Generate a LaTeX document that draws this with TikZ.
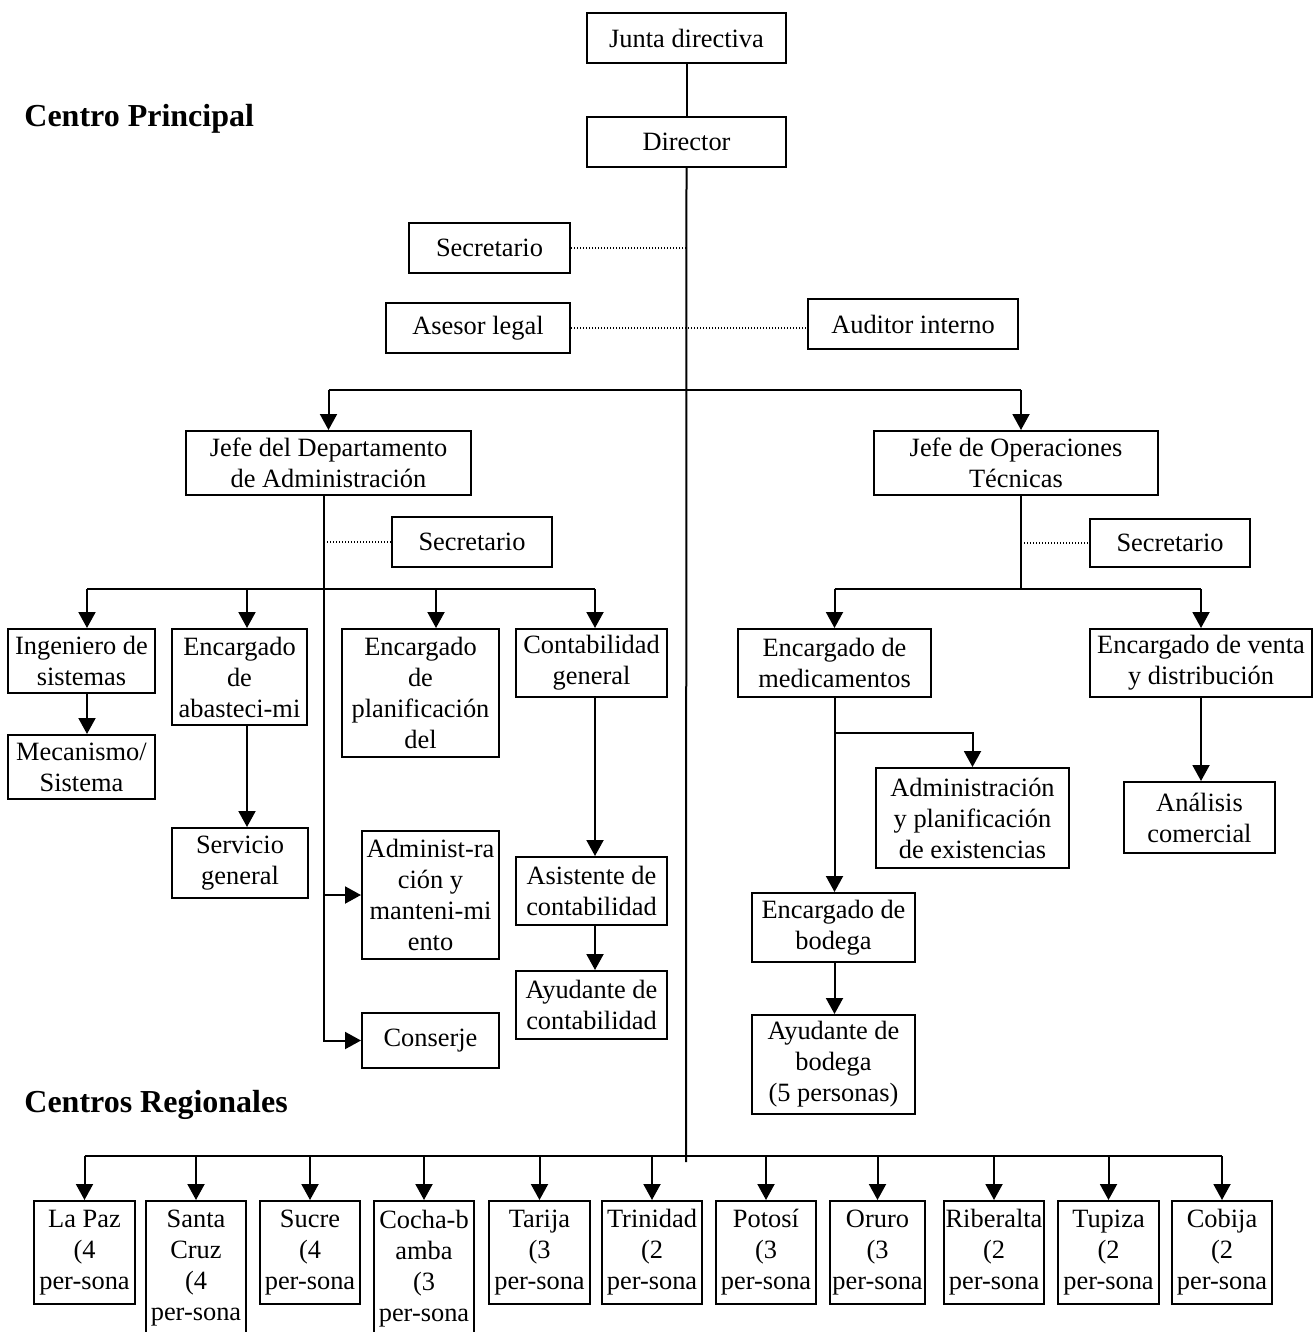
\documentclass[tikz,border=0pt]{standalone}
\usepackage{fontspec}
\setmainfont{Liberation Serif}
\usetikzlibrary{arrows.meta}
\newcommand\orgbox[6]{%
  \pgfmathsetmacro\obw{(#4-#2)*0.5}%
  \pgfmathsetmacro\obh{(#5-#3)*0.5}%
  \node[box, minimum width=\obw pt, minimum height=\obh pt] (#1) at ({(#2+#4)/2},{(#3+#5)/2}) {#6};}
\begin{document}
\begin{tikzpicture}[x=0.5pt,y=-0.5pt,
  box/.style={draw, line width=1pt, inner sep=0pt, align=center,
    font=\fontsize{13.2}{15.5}\selectfont},
  conn/.style={line width=1pt},
  arr/.style={conn, -{Triangle[length=8pt,width=8.5pt]}},
  dots/.style={line width=0.6pt, dash pattern=on 0.6pt off 0.9pt},
  head/.style={anchor=base west, inner sep=0pt, font=\bfseries\fontsize{16}{19}\selectfont}]
\useasboundingbox (0,0) rectangle (1313,1332);

% headings
\node[head] (hcp) at (24,127) {Centro Principal};
\node[head] (hcr) at (24,1112) {Centros Regionales};

% top
\orgbox{junta}{587}{13}{786}{63}{Junta directiva}
\orgbox{director}{587}{117}{786}{167}{Director}
\orgbox{sec1}{409}{223}{570}{273}{Secretario}
\orgbox{asesor}{386}{303}{570}{353}{Asesor legal}
\orgbox{auditor}{808}{299}{1018}{349}{Auditor interno}
\orgbox{jadmin}{186}{431}{471}{495}{Jefe del Departamento\\de Administración}
\orgbox{jop}{874}{431}{1158}{495}{Jefe de Operaciones\\Técnicas}

% administration
\orgbox{sec2}{392}{517}{552}{567}{Secretario}
\orgbox{ing}{8}{629}{155}{693}{Ingeniero de\\sistemas}
\orgbox{mec}{8}{735}{155}{799}{Mecanismo/\\Sistema}
\orgbox{abast}{172}{629}{307}{725}{Encargado\\de\\abasteci-mi}
\orgbox{serv}{172}{828}{308}{898}{Servicio\\general}
\orgbox{planif}{342}{629}{499}{757}{Encargado\\de\\planificación\\del}
\orgbox{contab}{516}{629}{667}{697}{Contabilidad\\general}
\orgbox{adman}{362}{831}{499}{959}{Administ-ra\\ción y\\manteni-mi\\ento}
\orgbox{conserje}{362}{1013}{499}{1068}{Conserje}
\orgbox{asist}{516}{857}{667}{925}{Asistente de\\contabilidad}
\orgbox{ayud}{516}{971}{667}{1039}{Ayudante de\\contabilidad}

% operations
\orgbox{sec3}{1090}{519}{1250}{567}{Secretario}
\orgbox{medic}{738}{629}{931}{697}{Encargado de\\medicamentos}
\orgbox{venta}{1090}{629}{1312}{697}{Encargado de venta\\y distribución}
\orgbox{admplan}{876}{768}{1069}{868}{Administración\\y planificación\\de existencias}
\orgbox{analisis}{1124}{782}{1275}{853}{Análisis\\comercial}
\orgbox{bodega}{752}{893}{915}{962}{Encargado de\\bodega}
\orgbox{aybod}{752}{1015}{915}{1114}{Ayudante de\\bodega\\(5 personas)}

% regional
\orgbox{lapaz}{34}{1201}{135}{1304}{La Paz\\(4\\per-sona}
\orgbox{santa}{146}{1201}{246}{1336}{Santa\\Cruz\\(4\\per-sona}
\orgbox{sucre}{260}{1201}{360}{1304}{Sucre\\(4\\per-sona}
\orgbox{cocha}{374}{1201}{474}{1336}{Cocha-b\\amba\\(3\\per-sona}
\orgbox{tarija}{489}{1201}{590}{1304}{Tarija\\(3\\per-sona}
\orgbox{trinidad}{602}{1201}{702}{1304}{Trinidad\\(2\\per-sona}
\orgbox{potosi}{716}{1201}{816}{1304}{Potosí\\(3\\per-sona}
\orgbox{oruro}{830}{1201}{925}{1304}{Oruro\\(3\\per-sona}
\orgbox{riberalta}{944}{1201}{1044}{1304}{Riberalta\\(2\\per-sona}
\orgbox{tupiza}{1058}{1201}{1159}{1304}{Tupiza\\(2\\per-sona}
\orgbox{cobija}{1172}{1201}{1272}{1304}{Cobija\\(2\\per-sona}

% helper coordinates
\coordinate (mainend) at (686,1162);
\coordinate (bus1) at (0,390);
\coordinate (bus2) at (0,589);
\coordinate (bus3) at (0,589);
\coordinate (br) at (0,733);
\coordinate (bus4) at (0,1156);
\coordinate (jopin) at ([xshift=2.5pt]jop.north);
\coordinate (jopx) at ([xshift=2.5pt]jop.south);
\coordinate (admx) at ([xshift=-2.25pt]jadmin.south);
\coordinate (ingin) at ([xshift=2.75pt]ing.north);
\coordinate (abastin) at ([xshift=3.75pt]abast.north);
\coordinate (planin) at ([xshift=7.75pt]planif.north);
\coordinate (contin) at ([xshift=1.75pt]contab.north);

% top connectors
\draw[conn] (junta) -- (director);
\draw[conn] (director.south) -- (mainend);
\draw[dots] (sec1.east) -- (sec1.east -| director.south);
\draw[dots] (asesor.east) -- (asesor.east -| auditor.west);
\draw[conn] (jadmin.north |- bus1) -- (jopin |- bus1);
\draw[arr] (jadmin.north |- bus1) -- (jadmin.north);
\draw[arr] (jopin |- bus1) -- (jopin);

% administration connectors
\draw[arr] (admx) |- (conserje.west);
\draw[arr] (admx |- adman.west) -- (adman.west);
\draw[dots] (admx |- sec2.west) -- (sec2.west);
\draw[conn] (ingin |- bus2) -- (contin |- bus2);
\draw[arr] (ingin |- bus2) -- (ingin);
\draw[arr] (abastin |- bus2) -- (abastin);
\draw[arr] (planin |- bus2) -- (planin);
\draw[arr] (contin |- bus2) -- (contin);
\draw[arr] (ing.south -| ingin) -- (mec.north -| ingin);
\draw[arr] (abast.south -| abastin) -- (serv.north -| abastin);
\draw[arr] (contab.south -| contin) -- (asist.north -| contin);
\draw[arr] (asist.south -| contin) -- (ayud.north -| contin);

% operations connectors
\draw[conn] (jopx) -- (jopx |- bus3);
\draw[dots] (jopx |- sec3.west) -- (sec3.west);
\draw[conn] (medic.north |- bus3) -- (venta.north |- bus3);
\draw[arr] (medic.north |- bus3) -- (medic.north);
\draw[arr] (venta.north |- bus3) -- (venta.north);
\draw[arr] (medic.south) -- (medic.south |- bodega.north);
\draw[arr] (medic.south |- br) -| (admplan.north);
\draw[arr] (bodega.south -| medic.south) -- (aybod.north -| medic.south);
\draw[arr] (venta.south) -- (venta.south |- analisis.north);

% regional connectors
\draw[conn] (lapaz.north |- bus4) -- (cobija.north |- bus4);
\foreach \n in {lapaz,santa,sucre,cocha,tarija,trinidad,potosi,oruro,riberalta,tupiza,cobija}
  \draw[arr] (\n.north |- bus4) -- (\n.north);
\end{tikzpicture}
\end{document}
